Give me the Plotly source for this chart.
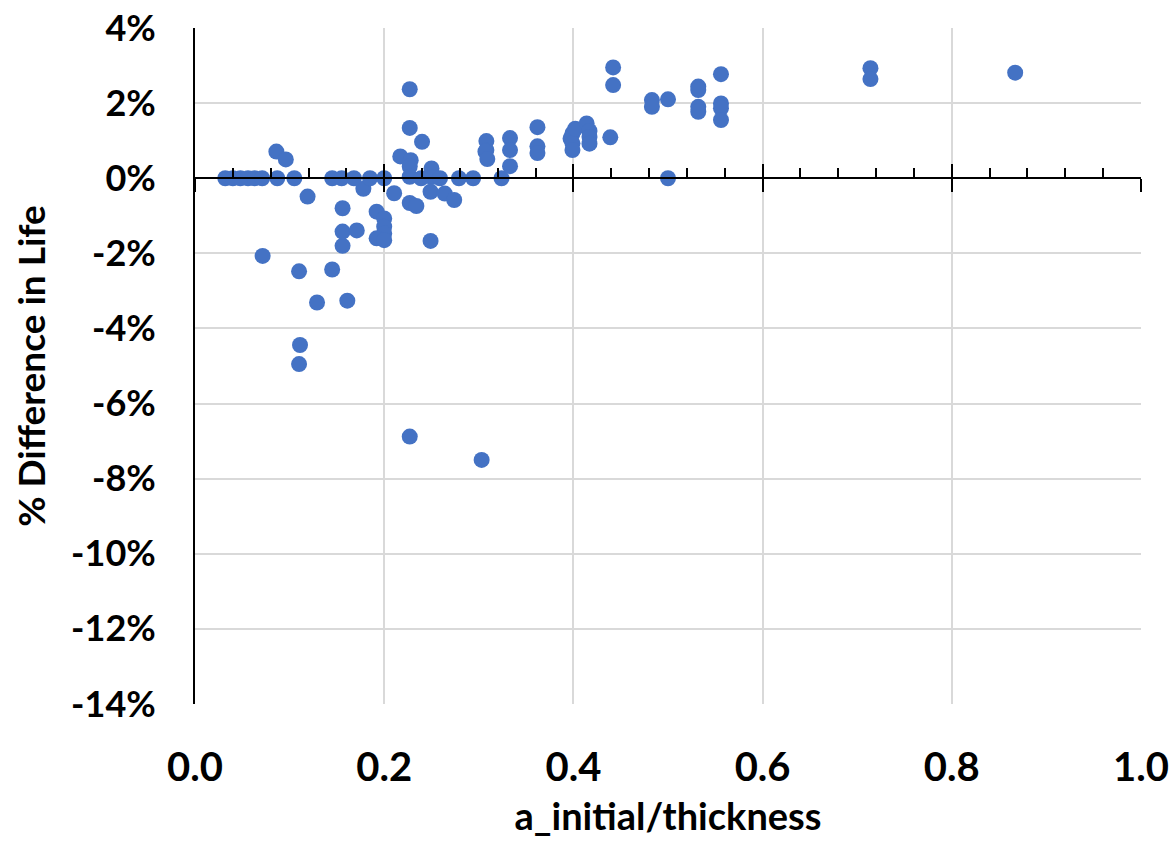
import plotly.graph_objects as go

# Crack depth ratio (a_initial / thickness) and percent difference in life
a_ratio = [
    0.032, 0.040, 0.048, 0.056, 0.063, 0.071, 0.087, 0.105,
    0.086, 0.096, 0.119, 0.0715, 0.110, 0.111, 0.110,
    0.145, 0.129, 0.161, 0.156, 0.156, 0.171, 0.156, 0.178,
    0.145, 0.155, 0.168, 0.185, 0.200,
    0.192, 0.200, 0.200, 0.200, 0.192, 0.200,
    0.2105, 0.217, 0.227, 0.227, 0.240, 0.228, 0.227, 0.227,
    0.250, 0.250, 0.239, 0.259, 0.279, 0.294, 0.324,
    0.249, 0.264, 0.274, 0.227, 0.234, 0.249, 0.227, 0.303,
    0.308, 0.308, 0.307, 0.309,
    0.333, 0.333, 0.333,
    0.362, 0.362, 0.362,
    0.399, 0.397, 0.399, 0.399, 0.402,
    0.414, 0.417, 0.417, 0.417,
    0.439, 0.442, 0.442,
    0.483, 0.483, 0.500, 0.500,
    0.532, 0.532, 0.532, 0.532,
    0.556, 0.556, 0.556, 0.556,
    0.714, 0.714, 0.867,
]
life_diff_pct = [
    0.0, 0.0, 0.0, 0.0, 0.0, 0.0, 0.0, 0.0,
    0.71, 0.50, -0.49, -2.07, -2.48, -4.44, -4.95,
    -2.43, -3.31, -3.26, -1.80, -1.42, -1.39, -0.80, -0.28,
    0.0, 0.0, 0.0, 0.0, 0.0,
    -0.89, -1.07, -1.29, -1.47, -1.60, -1.65,
    -0.40, 0.58, 2.37, 1.34, 0.97, 0.48, 0.31, 0.04,
    0.26, 0.03, 0.0, 0.0, 0.0, 0.0, 0.0,
    -0.36, -0.41, -0.58, -0.66, -0.74, -1.67, -6.88, -7.50,
    0.99, 0.75, 0.71, 0.51,
    1.07, 0.75, 0.32,
    1.36, 0.85, 0.67,
    1.19, 1.06, 0.93, 0.75, 1.32,
    1.46, 1.26, 1.10, 0.92,
    1.09, 2.95, 2.48,
    2.08, 1.90, 2.10, 0.0,
    2.44, 2.35, 1.90, 1.77,
    2.77, 1.99, 1.86, 1.55,
    2.93, 2.64, 2.81,
]

x_ticks = [0.0, 0.2, 0.4, 0.6, 0.8, 1.0]
x_tick_labels = ["0.0", "0.2", "0.4", "0.6", "0.8", "1.0"]
y_ticks = [4, 2, 0, -2, -4, -6, -8, -10, -12, -14]
y_tick_labels = [f"{v}%" for v in y_ticks]

Y_MIN, Y_MAX = -14, 4
FONT = "Lato"
GRID = "#d9d9d9"

fig = go.Figure()
fig.add_trace(go.Scatter(
    x=a_ratio, y=life_diff_pct, mode="markers",
    marker=dict(color="#4472C4", size=16, line=dict(width=0)),
    showlegend=False, hoverinfo="x+y",
))
# empty traces so the overlay axes at y = 0 get drawn
fig.add_trace(go.Scatter(x=[], y=[], xaxis="x2", yaxis="y", showlegend=False))
fig.add_trace(go.Scatter(x=[], y=[], xaxis="x3", yaxis="y", showlegend=False))

zero_pos = (0 - Y_MIN) / (Y_MAX - Y_MIN)

fig.update_layout(
    width=1173, height=841,
    margin=dict(l=195, r=32, t=28, b=137),
    paper_bgcolor="white", plot_bgcolor="white",
    xaxis=dict(
        range=[0, 1], tickvals=x_ticks, ticktext=x_tick_labels,
        showgrid=True, gridcolor=GRID, gridwidth=2, automargin=False,
        zeroline=False, showline=False, ticks="",
        tickfont=dict(family=FONT, size=40, color="black", weight="bold"),
        ticklabelstandoff=36,
        title=dict(text="a_initial/thickness", standoff=14,
                   font=dict(family=FONT, size=38, color="black", weight="bold")),
    ),
    xaxis2=dict(
        overlaying="x", anchor="free", position=zero_pos, range=[0, 1],
        showline=True, linecolor="black", linewidth=2, automargin=False,
        ticks="inside", ticklen=13, tickwidth=2, tickcolor="black", dtick=0.2, tick0=0,
        showticklabels=False, showgrid=False, zeroline=False,
        minor=dict(ticks="inside", ticklen=9, tickwidth=1.5, tickcolor="black",
                   dtick=0.04, tick0=0, showgrid=False),
    ),
    xaxis3=dict(
        overlaying="x", anchor="free", position=zero_pos, range=[0, 1],
        showline=False, ticks="outside", ticklen=13, tickwidth=2, tickcolor="black",
        dtick=0.2, tick0=0, showticklabels=False, showgrid=False, zeroline=False,
        automargin=False,
    ),
    yaxis=dict(
        range=[Y_MIN, Y_MAX], tickvals=y_ticks, ticktext=y_tick_labels,
        showgrid=True, gridcolor=GRID, gridwidth=2, automargin=False,
        zeroline=False, showline=True, linecolor="black", linewidth=2, ticks="",
        tickfont=dict(family=FONT, size=36, color="black", weight="bold"),
        ticklabelstandoff=30,
        title=dict(text="% Difference in Life", standoff=14,
                   font=dict(family=FONT, size=37, color="black", weight="bold")),
    ),
)

fig.write_html("out.html")
